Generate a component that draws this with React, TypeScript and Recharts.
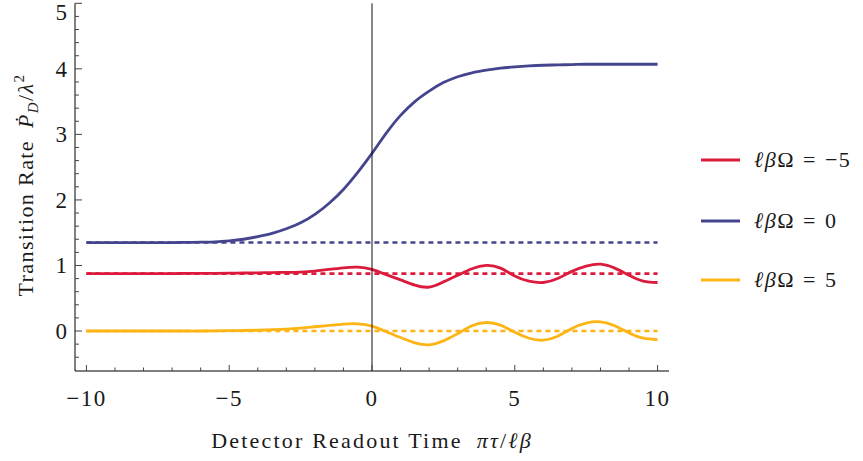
import React from 'react';
import { LineChart, Line, XAxis, YAxis, ReferenceLine } from 'recharts';

// Detector readout time  πτ/ℓβ
const times = [
  -10, -9.5, -9, -8.5, -8, -7.5, -7, -6.5, -6, -5.5, -5, -4.5, -4, -3.5, -3, -2.5, -2, -1.5, -1, -0.5,
  0, 0.5, 1, 1.5, 2, 2.5, 3, 3.5, 4, 4.5, 5, 5.5, 6, 6.5, 7, 7.5, 8, 8.5, 9, 9.5, 10,
];

// ℓβΩ = −5
const rateMinus5 = [
  0.875, 0.875, 0.875, 0.875, 0.875, 0.876, 0.877, 0.878, 0.879, 0.88, 0.882, 0.885, 0.888, 0.892, 0.895, 0.9, 0.915, 0.94, 0.965, 0.975,
  0.94, 0.86, 0.78, 0.7, 0.67, 0.75, 0.85, 0.95, 1.0, 0.96, 0.84, 0.76, 0.74, 0.8, 0.91, 0.99, 1.02, 0.96, 0.85, 0.76, 0.74,
];
// ℓβΩ = 0
const rateZero = [
  1.35, 1.35, 1.35, 1.35, 1.35, 1.35, 1.35, 1.352, 1.355, 1.36, 1.375, 1.4, 1.44, 1.49, 1.56, 1.65, 1.78, 1.95, 2.16, 2.42,
  2.71, 3.02, 3.29, 3.5, 3.66, 3.79, 3.88, 3.94, 3.98, 4.01, 4.03, 4.045, 4.055, 4.06, 4.065, 4.07, 4.07, 4.07, 4.07, 4.07, 4.07,
];
// ℓβΩ = 5
const ratePlus5 = [
  0, 0, 0, 0, 0, 0, 0, 0, 0, 0.002, 0.005, 0.008, 0.012, 0.02, 0.03, 0.045, 0.065, 0.085, 0.105, 0.11,
  0.075, -0.01, -0.1, -0.18, -0.21, -0.15, -0.04, 0.08, 0.13, 0.09, -0.02, -0.11, -0.14, -0.08, 0.04, 0.12, 0.14, 0.08, -0.03, -0.11, -0.13,
];

// asymptotic (dotted) levels
const levelMinus5 = 0.875;
const levelZero = 1.35;
const levelPlus5 = 0;

const seriesNames = ['ℓβΩ = −5', 'ℓβΩ = 0', 'ℓβΩ = 5'];
const seriesColors = ['#dc1a3c', '#45458f', '#fdb515'];

const xTicks = [-10, -9, -8, -7, -6, -5, -4, -3, -2, -1, 0, 1, 2, 3, 4, 5, 6, 7, 8, 9, 10];
const xMajorTicks = [-10, -5, 0, 5, 10];
const yTicks = [
  -0.4, -0.2, 0, 0.2, 0.4, 0.6, 0.8, 1, 1.2, 1.4, 1.6, 1.8, 2, 2.2, 2.4, 2.6, 2.8, 3, 3.2, 3.4, 3.6, 3.8, 4, 4.2, 4.4, 4.6, 4.8, 5,
];
const yMajorTicks = [0, 1, 2, 3, 4, 5];

const rows = times.map((t, i) => ({
  t,
  m5: rateMinus5[i],
  z: rateZero[i],
  p5: ratePlus5[i],
  m5lvl: levelMinus5,
  zlvl: levelZero,
  p5lvl: levelPlus5,
}));

const FONT = "'Liberation Serif', 'Times New Roman', 'DejaVu Serif', serif";
const INK = '#1a1a1a';
const TICK = '#444';
const textStyle: React.CSSProperties = { fontFamily: FONT, fontSize: 22 };

const isMajor = (v: number, list: number[]) => list.some((m) => Math.abs(m - v) < 1e-6);
const fmt = (v: number) => (v < 0 ? '\u2212' + Math.abs(v) : String(v));

const BottomTick = (props: any) => {
  const { x, y, payload } = props;
  const major = isMajor(payload.value, xMajorTicks);
  return (
    <g>
      <line x1={x} y1={y} x2={x} y2={y - (major ? 6 : 3.5)} stroke={TICK} strokeWidth={1} />
      {major && (
        <text x={x} y={y + 35} textAnchor="middle" style={{ ...textStyle, fontSize: 23, letterSpacing: 1.5 }} fill={INK}>
          {fmt(payload.value)}
        </text>
      )}
    </g>
  );
};
const TopTick = (props: any) => {
  const { x, y, payload } = props;
  const major = isMajor(payload.value, xMajorTicks);
  return <line x1={x} y1={y} x2={x} y2={y + (major ? 6 : 3.5)} stroke={TICK} strokeWidth={1} />;
};
const LeftTick = (props: any) => {
  const { x, y, payload } = props;
  const major = isMajor(payload.value, yMajorTicks);
  // keep the top label ("5") inside the picture
  const ty = y + 8 < 20 ? 20 : y + 8;
  return (
    <g>
      <line x1={x} y1={y} x2={x + (major ? 7 : 4)} y2={y} stroke={TICK} strokeWidth={1} />
      {major && (
        <text x={x - 8} y={ty} textAnchor="end" style={{ ...textStyle, fontSize: 23 }} fill={INK}>
          {fmt(payload.value)}
        </text>
      )}
    </g>
  );
};
const RightTick = (props: any) => {
  const { x, y, payload } = props;
  const major = isMajor(payload.value, yMajorTicks);
  return <line x1={x} y1={y} x2={x - (major ? 7 : 4)} y2={y} stroke={TICK} strokeWidth={1} />;
};

const XTitle = () => (
  <text x={372} y={448} textAnchor="middle" style={{ ...textStyle, letterSpacing: 2.2 }} fill={INK}>
    <tspan>Detector Readout Time</tspan>
    <tspan dx={14} fontStyle="italic">πτ</tspan>
    <tspan>/</tspan>
    <tspan fontStyle="italic">ℓβ</tspan>
  </text>
);

const YTitle = () => (
  <text
    x={33}
    y={185}
    transform="rotate(-90 33 185)"
    textAnchor="middle"
    style={{ ...textStyle, letterSpacing: 1.4 }}
    fill={INK}
  >
    <tspan>Transition Rate</tspan>
    <tspan dx={12} fontStyle="italic">Ṗ</tspan>
    <tspan fontStyle="italic" fontSize={15} dy={5}>D</tspan>
    <tspan dy={-5}>/</tspan>
    <tspan fontStyle="italic">λ</tspan>
    <tspan fontSize={15} dy={-9}>2</tspan>
  </text>
);

const legendRows = [160, 221, 280];

export default function App() {
  return (
    <div style={{ position: 'absolute', left: 0, top: 0, width: 863, height: 461, background: '#fff' }}>
      <LineChart
        width={863}
        height={461}
        data={rows}
        margin={{ top: 3.3, right: 194, bottom: 0, left: 0 }}
      >
        <XAxis
          xAxisId="b"
          dataKey="t"
          type="number"
          orientation="bottom"
          domain={[-10.4, 10.4]}
          ticks={xTicks}
          interval={0}
          height={90}
          tickSize={0}
          tickMargin={0}
          tickLine={false}
          axisLine={{ stroke: '#000', strokeWidth: 1 }}
          tick={<BottomTick />}
          allowDataOverflow
        />
        <XAxis
          xAxisId="t"
          dataKey="t"
          type="number"
          orientation="top"
          domain={[-10.4, 10.4]}
          ticks={xTicks}
          interval={0}
          height={0}
          tickSize={0}
          tickMargin={0}
          tickLine={false}
          axisLine={{ stroke: '#000', strokeWidth: 1 }}
          tick={<TopTick />}
          allowDataOverflow
        />
        <YAxis
          yAxisId="l"
          orientation="left"
          type="number"
          domain={[-0.61, 5]}
          ticks={yTicks}
          interval={0}
          width={75}
          tickSize={0}
          tickMargin={0}
          tickLine={false}
          axisLine={{ stroke: '#000', strokeWidth: 1 }}
          tick={<LeftTick />}
          allowDataOverflow
        />
        <YAxis
          yAxisId="r"
          orientation="right"
          type="number"
          domain={[-0.61, 5]}
          ticks={yTicks}
          interval={0}
          width={0}
          tickSize={0}
          tickMargin={0}
          tickLine={false}
          axisLine={{ stroke: '#000', strokeWidth: 1 }}
          tick={<RightTick />}
          allowDataOverflow
        />
        <Line xAxisId="b" yAxisId="l" dataKey="zlvl" stroke={seriesColors[1]} strokeWidth={2.6} strokeDasharray="5 4" dot={false} isAnimationActive={false} />
        <Line xAxisId="b" yAxisId="l" dataKey="m5lvl" stroke={seriesColors[0]} strokeWidth={2.6} strokeDasharray="5 4" dot={false} isAnimationActive={false} />
        <Line xAxisId="b" yAxisId="l" dataKey="p5lvl" stroke={seriesColors[2]} strokeWidth={2.6} strokeDasharray="5 4" dot={false} isAnimationActive={false} />
        <Line xAxisId="b" yAxisId="l" type="natural" dataKey="m5" stroke={seriesColors[0]} strokeWidth={2.8} dot={false} isAnimationActive={false} />
        <Line xAxisId="b" yAxisId="l" type="monotone" dataKey="z" stroke={seriesColors[1]} strokeWidth={2.8} dot={false} isAnimationActive={false} />
        <Line xAxisId="b" yAxisId="l" type="natural" dataKey="p5" stroke={seriesColors[2]} strokeWidth={2.8} dot={false} isAnimationActive={false} />
        <ReferenceLine xAxisId="b" yAxisId="l" x={0} stroke="#111" strokeWidth={1} />
      </LineChart>
      <svg width={863} height={461} style={{ position: 'absolute', left: 0, top: 0, pointerEvents: 'none' }}>
        <XTitle />
        <YTitle />
        {seriesNames.map((name, i) => {
          const [lhs, rhs] = name.split(' = ');
          return (
            <g key={name}>
              <line x1={701} y1={legendRows[i]} x2={740} y2={legendRows[i]} stroke={seriesColors[i]} strokeWidth={3} />
              <text x={754} y={legendRows[i] + 7} style={{ ...textStyle, letterSpacing: 1.5 }} fill={INK}>
                <tspan fontStyle="italic">{lhs.slice(0, 2)}</tspan>
                <tspan>{lhs.slice(2)}</tspan>
                <tspan dx={8}>=</tspan>
                <tspan dx={8}>{rhs}</tspan>
              </text>
            </g>
          );
        })}
      </svg>
    </div>
  );
}
